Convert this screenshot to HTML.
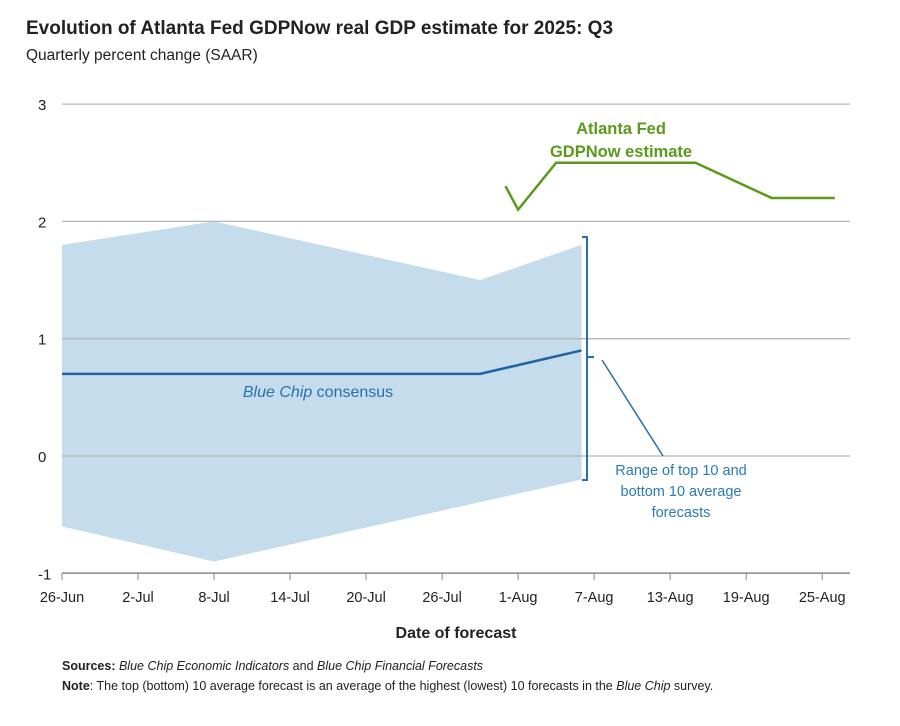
<!DOCTYPE html>
<html><head><meta charset="utf-8"><style>
body{margin:0;background:#fff;font-family:"Liberation Sans",sans-serif}
</style></head><body>
<svg id="c" width="900" height="721" xmlns="http://www.w3.org/2000/svg" font-family="Liberation Sans, sans-serif">
<text x="26" y="34" font-size="19" font-weight="bold" fill="#222">Evolution of Atlanta Fed GDPNow real GDP estimate for 2025: Q3</text>
<text x="26" y="60" font-size="15.5" fill="#222">Quarterly percent change (SAAR)</text>
<g id="bandg"></g><g id="grid"></g><g id="marks"></g><g id="axes"></g>
<text x="456" y="638" font-size="16" font-weight="bold" fill="#222" text-anchor="middle">Date of forecast</text>
<text x="62" y="670" font-size="12.5" fill="#222"><tspan font-weight="bold">Sources: </tspan><tspan font-style="italic">Blue Chip Economic Indicators</tspan> and <tspan font-style="italic">Blue Chip Financial Forecasts</tspan></text>
<text x="62" y="690" font-size="12.5" fill="#222"><tspan font-weight="bold">Note</tspan>: The top (bottom) 10 average forecast is an average of the highest (lowest) 10 forecasts in the <tspan font-style="italic">Blue Chip</tspan> survey.</text>
<text x="621" y="134" font-size="16.5" font-weight="bold" fill="#5a9a1a" text-anchor="middle">Atlanta Fed</text>
<text x="621" y="157" font-size="16.5" font-weight="bold" fill="#5a9a1a" text-anchor="middle">GDPNow estimate</text>
<text x="318" y="397" font-size="16" fill="#2a6fad" text-anchor="middle"><tspan font-style="italic">Blue Chip</tspan> consensus</text>
<text x="681" y="475" font-size="14.5" fill="#2a7ab8" text-anchor="middle">Range of top 10 and</text>
<text x="681" y="496" font-size="14.5" fill="#2a7ab8" text-anchor="middle">bottom 10 average</text>
<text x="681" y="517" font-size="14.5" fill="#2a7ab8" text-anchor="middle">forecasts</text>
<path d="M582,237 H587 V480 H582 M587,357 H594" fill="none" stroke="#2a6fad" stroke-width="2"/>
<line x1="602" y1="360" x2="663" y2="456" stroke="#2a6fad" stroke-width="1.5"/>
</svg>
<script>
const yTicks=[3,2,1,0,-1];
const xTickLabels=["26-Jun","2-Jul","8-Jul","14-Jul","20-Jul","26-Jul","1-Aug","7-Aug","13-Aug","19-Aug","25-Aug"];
const xTickDays=[0,6,12,18,24,30,36,42,48,54,60];
const bandDays=[0,12,33,41];
const bandHigh=[1.8,2.0,1.5,1.8];
const bandLowDays=[0,12,41];
const bandLow=[-0.6,-0.9,-0.2];
const consensusDays=[0,33,41];
const consensus=[0.7,0.7,0.9];
const gdpDays=[35,36,39,50,56,61];
const gdpNow=[2.3,2.1,2.5,2.5,2.2,2.2];
const X=d=>62+d*12.67;
const Y=v=>456-v*117.3;
const NS="http://www.w3.org/2000/svg";
function mk(p,t,a){const e=document.createElementNS(NS,t);for(const k in a)e.setAttribute(k,a[k]);document.getElementById(p).appendChild(e);return e;}
yTicks.forEach(v=>{
 const l=mk('grid','line',{x1:62,x2:850,y1:Y(v),y2:Y(v),stroke:'#b5b5b5','stroke-width':1.3});
 
 
 const t=mk('axes','text',{x:38,y:Y(v)+6,'font-size':15,fill:'#222'});
 t.textContent=v;
 
 
});
const ax=mk('axes','line',{x1:62,x2:850,y1:573,y2:573,stroke:'#888','stroke-width':1.3});


xTickDays.forEach((d,i)=>{
 const tk=mk('axes','line',{x1:X(d),x2:X(d),y1:573,y2:580,stroke:'#888'});
 
 
 const t=mk('axes','text',{x:X(d),y:602,'font-size':14.5,fill:'#222','text-anchor':'middle'});
 t.textContent=xTickLabels[i];
 
 
});
let pts=bandDays.map((d,i)=>X(d)+','+Y(bandHigh[i]));
for(let i=bandLowDays.length-1;i>=0;i--)pts.push(X(bandLowDays[i])+','+Y(bandLow[i]));
const band=mk('bandg','polygon',{points:pts.join(' '),fill:'#c5dcec'});


const cl=mk('marks','polyline',{points:consensusDays.map((d,i)=>X(d)+','+Y(consensus[i])).join(' '),fill:'none',stroke:'#1f63a3','stroke-width':2.5});


const gl=mk('marks','polyline',{points:gdpDays.map((d,i)=>X(d)+','+Y(gdpNow[i])).join(' '),fill:'none',stroke:'#5a9a1a','stroke-width':2.5});


</script>
</body></html>
